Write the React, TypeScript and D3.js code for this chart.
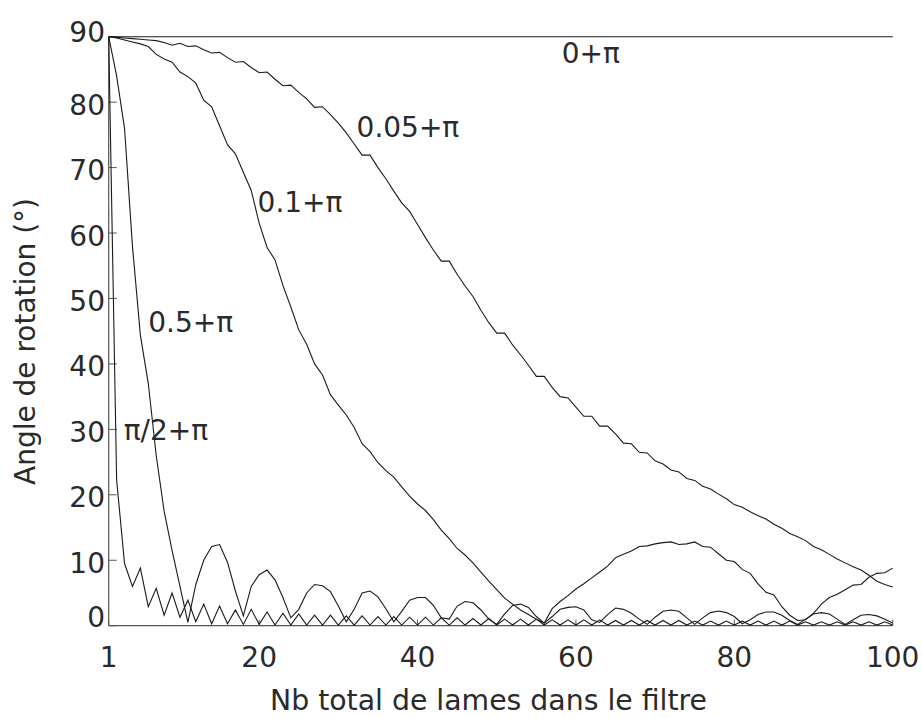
import React from "react";
import * as d3 from "d3";

// Number of plates (x categories)
const nLames: number[] = d3.range(1, 101);

const xTicks = [1, 20, 40, 60, 80, 100];
const yTicks = [0, 10, 20, 30, 40, 50, 60, 70, 80, 90];

// Rotation angle (degrees) for each retardance error
const serie0 = [
  90, 90, 90, 90, 90, 90, 90, 90, 90, 90, 90, 90, 90, 90, 90, 90, 90, 90, 90, 90,
  90, 90, 90, 90, 90, 90, 90, 90, 90, 90, 90, 90, 90, 90, 90, 90, 90, 90, 90, 90,
  90, 90, 90, 90, 90, 90, 90, 90, 90, 90, 90, 90, 90, 90, 90, 90, 90, 90, 90, 90,
  90, 90, 90, 90, 90, 90, 90, 90, 90, 90, 90, 90, 90, 90, 90, 90, 90, 90, 90, 90,
  90, 90, 90, 90, 90, 90, 90, 90, 90, 90, 90, 90, 90, 90, 90, 90, 90, 90, 90, 90,
];

const serie005 = [
  90, 89.9, 89.8, 89.7, 89.6, 89.5, 89.4, 89.1, 88.7, 89.0,
  88.5, 88.6, 88.0, 87.5, 87.6, 86.8, 86.1, 86.2, 85.3, 84.5,
  84.6, 83.5, 82.5, 82.6, 81.5, 80.5, 79.2, 79.3, 78.1, 76.8,
  75.3, 73.6, 71.9, 71.9, 70.0, 68.3, 66.4, 64.6, 63.3, 61.3,
  59.3, 57.4, 55.7, 55.7, 53.7, 51.9, 50.3, 48.2, 46.3, 44.7,
  44.7, 42.9, 41.4, 39.8, 38.1, 38.1, 36.4, 35.0, 34.8, 33.4,
  32.0, 32.0, 30.5, 30.5, 29.3, 27.9, 27.8, 26.5, 26.4, 25.2,
  24.7, 23.8, 23.5, 22.5, 22.2, 21.3, 20.9, 20.1, 19.4, 18.5,
  18.1, 17.4, 16.8, 16.3, 15.5, 14.9, 14.1, 13.6, 13.0, 12.1,
  11.6, 10.9, 10.2, 9.6, 9.0, 8.5, 7.7, 6.8, 6.3, 5.9,
];

const serie01 = [
  90, 89.8, 89.5, 89.2, 88.9, 88.5, 87.3, 86.6, 86.1, 84.6,
  83.9, 82.9, 80.3, 79.3, 76.4, 73.5, 72.1, 69.3, 66.5, 61.5,
  57.8, 55.9, 52.0, 48.7, 45.2, 43.0, 40.0, 38.3, 35.3, 33.7,
  32.2, 30.3, 27.8, 26.6, 24.9, 23.7, 22.7, 21.2, 19.8, 18.6,
  17.6, 16.2, 14.6, 13.3, 11.8, 10.8, 9.6, 8.2, 6.8, 5.5,
  4.2, 3.3, 2.4, 1.7, 1.0, 0.4, 2.6, 3.7, 4.6, 5.6,
  6.4, 7.3, 8.2, 9.1, 10.4, 10.9, 11.4, 12.1, 12.2, 12.5,
  12.7, 12.8, 12.4, 12.5, 12.8, 12.1, 12.0, 11.0, 10.0, 9.8,
  8.6, 8.0, 6.4, 5.1, 4.7, 2.9, 1.6, 0.8, 0.9, 1.9,
  3.3, 4.3, 4.8, 5.5, 6.2, 6.3, 7.4, 8.0, 8.1, 8.8,
];

const serie05 = [
  90, 84, 76, 58, 44.4, 37, 26, 17.5, 11.5, 6,
  0.5, 6.3, 10, 12.1, 12.4, 9.7, 5.3, 1.5, 6, 7.8,
  8.5, 7.0, 4.3, 1.2, 2.5, 5.0, 6.3, 6.1, 5.2, 3.0,
  0.6, 2.5, 5.0, 5.3, 4.4, 2.6, 0.6, 2.2, 3.9, 4.3,
  4.3, 3.1, 1.2, 1.0, 3.0, 3.7, 3.5, 2.4, 1.0, 0.2,
  1.8, 3.1, 3.3, 2.8, 1.4, 0.4, 1.4, 2.5, 2.8, 2.9,
  2.4, 0.9, 0.5, 1.7, 2.7, 2.5, 1.9, 1.0, 0.2, 1.3,
  2.2, 2.4, 2.2, 1.2, 0.2, 1.2, 2.0, 2.25, 2.0, 1.4,
  0.3, 0.9, 1.7, 2.1, 2.1, 1.6, 0.8, 0.2, 1.0, 1.8,
  2.0, 1.8, 1.0, 0.2, 0.9, 1.6, 1.7, 1.5, 1.0, 0.4,
];

const seriePi2 = [
  90, 22.3, 9.5, 6.0, 8.8, 2.9, 5.7, 1.6, 5.0, 1.3,
  3.9, 0.6, 3.3, 0.3, 3.0, 0.3, 2.4, 0.2, 2.5, 0.2,
  2.1, 0.1, 1.9, 0.1, 1.8, 0.1, 1.6, 0.1, 1.6, 0.1,
  1.5, 0.1, 1.5, 0.1, 1.4, 0.1, 1.4, 0.1, 1.3, 0.1,
  1.3, 0.1, 1.2, 0.1, 1.2, 0.1, 1.1, 0.1, 1.1, 0.1,
  1.0, 0.1, 1.0, 0.1, 1.0, 0.1, 0.9, 0.1, 0.9, 0.1,
  0.9, 0.1, 0.9, 0.1, 0.8, 0.1, 0.8, 0.1, 0.8, 0.1,
  0.8, 0.1, 0.8, 0.1, 0.7, 0.1, 0.7, 0.1, 0.7, 0.1,
  0.7, 0.1, 0.7, 0.1, 0.7, 0.1, 0.7, 0.1, 0.6, 0.1,
  0.6, 0.1, 0.6, 0.1, 0.6, 0.1, 0.6, 0.1, 0.6, 0.1,
];

const series = [serie0, serie005, serie01, serie05, seriePi2];

// Curve annotations: text, anchor N, anchor angle
const annotTexts = ["0+\u03C0", "0.05+\u03C0", "0.1+\u03C0", "0.5+\u03C0", "\u03C0/2+\u03C0"];
const annotN = [58.2, 32.3, 19.8, 6.0, 2.9];
const annotAngle = [86.0, 74.6, 63.2, 44.9, 28.4];

const W = 922;
const H = 718;
const FONT = "'DejaVu Sans', sans-serif";
const WEIGHT = 400;
const TEXT_COLOR = "#2a2a2a";

export default function App() {
  const x = d3.scaleLinear().domain([1, 100]).range([108.7, 892.7]);
  const y = d3.scaleLinear().domain([0, 90]).range([625.7, 36.7]);

  const line = d3
    .line<number>()
    .x((_, i) => x(nLames[i]))
    .y((d) => y(d));

  const yLabelShift = (v: number) => (v === 0 ? 1 : v === 90 ? 5 : 12.5);

  return (
    <svg
      width={W}
      height={H}
      viewBox={`0 0 ${W} ${H}`}
      style={{ position: "absolute", left: 0, top: 0, background: "#fff" }}
    >
      <rect x={0} y={0} width={W} height={H} fill="#fff" />
      {/* axes */}
      <line x1={x(1)} x2={x(1)} y1={y(90)} y2={y(0)} stroke="#555" strokeWidth={1.2} />
      <line x1={x(1)} x2={x(100)} y1={y(0)} y2={y(0)} stroke="#555" strokeWidth={1.2} />
      {yTicks.map((t) => (
        <g key={"yt" + t}>
          <line x1={x(1)} x2={x(1) + 8} y1={y(t)} y2={y(t)} stroke="#555" strokeWidth={1} />
          <text
            x={105}
            y={y(t) + yLabelShift(t)}
            textAnchor="end"
            fontFamily={FONT}
            fontWeight={WEIGHT}
            fontSize={28}
            fill={TEXT_COLOR}
          >
            {t}
          </text>
        </g>
      ))}
      {xTicks.map((t) => (
        <g key={"xt" + t}>
          <line x1={x(t)} x2={x(t)} y1={y(0)} y2={y(0) - 6} stroke="#555" strokeWidth={1} />
          <text
            x={x(t)}
            y={666.5}
            textAnchor="middle"
            fontFamily={FONT}
            fontWeight={WEIGHT}
            fontSize={28}
            fill={TEXT_COLOR}
          >
            {t}
          </text>
        </g>
      ))}
      {/* curves */}
      {series.map((s, i) => (
        <path key={"s" + i} d={line(s) || ""} fill="none" stroke="#1a1a1a" strokeWidth={1.1} />
      ))}
      {/* annotations */}
      {annotTexts.map((t, i) => (
        <text
          key={"a" + i}
          x={x(annotN[i])}
          y={y(annotAngle[i])}
          fontFamily={FONT}
          fontWeight={WEIGHT}
          fontSize={28}
          fill={TEXT_COLOR}
        >
          {t}
        </text>
      ))}
      {/* axis titles */}
      <text
        x={488.5}
        y={710}
        textAnchor="middle"
        fontFamily={FONT}
        fontWeight={WEIGHT}
        fontSize={29}
        fill={TEXT_COLOR}
        textLength={437}
        lengthAdjust="spacingAndGlyphs"
      >
        Nb total de lames dans le filtre
      </text>
      <text
        transform={`translate(35, 341.5) rotate(-90)`}
        textAnchor="middle"
        fontFamily={FONT}
        fontWeight={WEIGHT}
        fontSize={29}
        fill={TEXT_COLOR}
        textLength={287}
        lengthAdjust="spacingAndGlyphs"
      >
        Angle de rotation (°)
      </text>
    </svg>
  );
}
